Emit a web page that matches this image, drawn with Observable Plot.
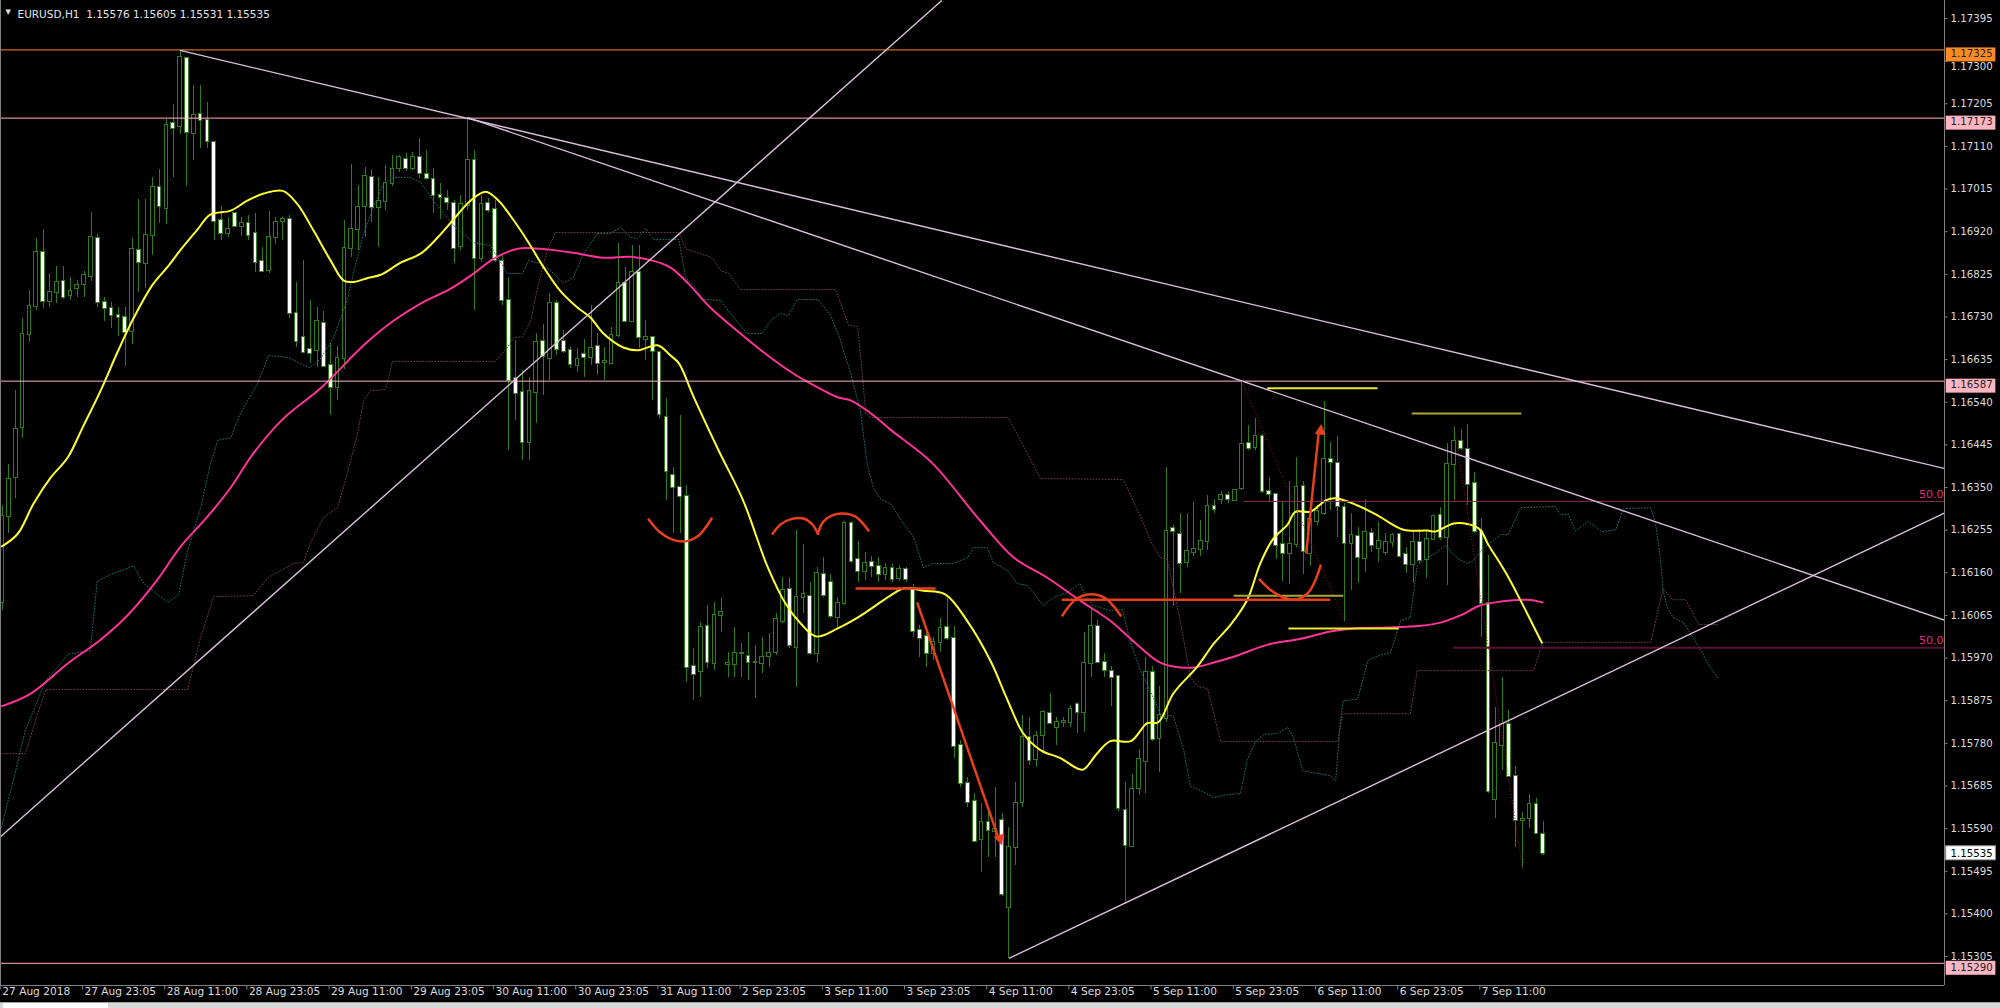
<!DOCTYPE html>
<html><head><meta charset="utf-8">
<script src="https://cdn.jsdelivr.net/npm/d3@7"></script>
<script src="https://cdn.jsdelivr.net/npm/@observablehq/plot@0.6"></script>
<style>
html,body{margin:0;padding:0;background:#000;overflow:hidden}
#strip{position:relative;height:6px;background:#d8d8d8;border-top:1px solid #a0a0a0}
#strip div{position:absolute;left:3px;top:0;width:105px;height:6px;background:#fff}
</style>
</head><body><div id="chart"></div><div id="strip"><div></div></div>
<script>
// ---- OHLC (EURUSD H1), bar index 0..225 ----
const O = [
1.16094,1.16285,1.16372,1.16484,1.16691,1.16754,1.16873,1.16765,1.16784,1.16808,
1.16777,1.16793,1.16802,1.16820,1.16904,1.16763,1.16749,1.16734,1.16729,1.16698,
1.16878,1.16849,1.16911,1.17018,1.16971,1.17161,1.17154,1.17306,1.17138,1.17181,
1.17167,1.17118,1.16944,1.16915,1.16960,1.16931,1.16938,1.16915,1.16853,1.16833,
1.16907,1.16942,1.16947,1.16738,1.16685,1.16658,1.16656,1.16716,1.16622,1.16573,
1.16638,1.16882,1.16924,1.16976,1.17040,1.16973,1.16987,1.17027,1.17060,1.17081,
1.17060,1.17085,1.17047,1.17036,1.17000,1.16994,1.16982,1.16887,1.16978,1.17078,
1.16860,1.16982,1.16969,1.16853,1.16767,1.16593,1.16562,1.16450,1.16562,1.16676,
1.16638,1.16760,1.16676,1.16656,1.16622,1.16647,1.16640,1.16665,1.16629,1.16627,
1.16689,1.16804,1.16720,1.16829,1.16680,1.16685,1.16651,1.16506,1.16377,1.16350,
1.16330,1.15951,1.15940,1.16040,1.15958,1.16065,1.15955,1.15955,1.15980,1.15973,
1.15960,1.15958,1.15973,1.15982,1.16051,1.16123,1.15993,1.16105,1.16107,1.15980,
1.16156,1.16138,1.16060,1.16091,1.16270,1.16190,1.16163,1.16183,1.16174,1.16156,
1.16169,1.16147,1.16167,1.16125,1.16031,1.16018,1.15980,1.16004,1.16038,1.16013,
1.15776,1.15691,1.15651,1.15566,1.15604,1.15584,1.15608,1.15414,1.15548,1.15649,
1.15794,1.15745,1.15798,1.15847,1.15816,1.15827,1.15827,1.15867,1.15849,1.15958,
1.16040,1.15960,1.15940,1.15929,1.15631,1.15551,1.15680,1.15740,1.15938,1.15791,
1.15836,1.16259,1.16245,1.16183,1.16205,1.16212,1.16230,1.16308,1.16323,1.16332,
1.16321,1.16348,1.16448,1.16439,1.16464,1.16341,1.16335,1.16223,1.16203,1.16223,
1.16352,1.16203,1.16274,1.16292,1.16413,1.16404,1.16305,1.16225,1.16241,1.16192,
1.16247,1.16214,1.16205,1.16227,1.16245,1.16201,1.16178,1.16227,1.16190,1.16234,
1.16288,1.16239,1.16401,1.16453,1.16435,1.16359,1.16252,1.16091,1.15655,1.15776,
1.15823,1.15707,1.15608,1.15613,1.15644,1.15576];
const H = [
1.16310,1.16401,1.16566,1.16727,1.16788,1.16904,1.16924,1.16826,1.16842,1.16842,
1.16817,1.16811,1.16831,1.16962,1.16913,1.16773,1.16763,1.16751,1.16751,1.16904,
1.16991,1.16991,1.17040,1.17058,1.17170,1.17203,1.17324,1.17308,1.17246,1.17246,
1.17208,1.17118,1.16976,1.16951,1.16962,1.16951,1.16956,1.16960,1.16884,1.16964,
1.16951,1.16951,1.16956,1.16806,1.16855,1.16767,1.16751,1.16742,1.16671,1.16665,
1.16944,1.17069,1.17023,1.17063,1.17058,1.17040,1.17067,1.17089,1.17089,1.17094,
1.17096,1.17127,1.17101,1.17060,1.17027,1.17011,1.16989,1.17000,1.17174,1.17101,
1.17000,1.16994,1.16989,1.16866,1.16817,1.16678,1.16611,1.16595,1.16693,1.16714,
1.16782,1.16767,1.16700,1.16662,1.16660,1.16680,1.16756,1.16693,1.16662,1.16707,
1.16893,1.16840,1.16889,1.16889,1.16722,1.16685,1.16651,1.16549,1.16395,1.16511,
1.16355,1.15991,1.16049,1.16087,1.16094,1.16103,1.15982,1.16038,1.16002,1.16027,
1.15998,1.16016,1.16024,1.16069,1.16149,1.16149,1.16254,1.16223,1.16138,1.16172,
1.16194,1.16156,1.16105,1.16274,1.16274,1.16230,1.16205,1.16196,1.16194,1.16181,
1.16178,1.16176,1.16172,1.16134,1.16042,1.16031,1.16016,1.16058,1.16103,1.16040,
1.15787,1.15704,1.15669,1.15646,1.15637,1.15682,1.15624,1.15593,1.15693,1.15843,
1.15838,1.15807,1.15854,1.15891,1.15838,1.15838,1.15865,1.15872,1.16027,1.16078,
1.16053,1.15980,1.15951,1.15931,1.15693,1.15711,1.15767,1.15971,1.15951,1.15906,
1.16395,1.16265,1.16292,1.16292,1.16317,1.16276,1.16332,1.16323,1.16341,1.16341,
1.16346,1.16587,1.16488,1.16504,1.16468,1.16372,1.16337,1.16317,1.16364,1.16417,
1.16364,1.16301,1.16310,1.16542,1.16450,1.16464,1.16314,1.16292,1.16261,1.16323,
1.16259,1.16272,1.16247,1.16247,1.16247,1.16216,1.16254,1.16256,1.16254,1.16285,
1.16305,1.16448,1.16486,1.16479,1.16490,1.16384,1.16281,1.16198,1.15860,1.15926,
1.15854,1.15729,1.15626,1.15667,1.15658,1.15605];
const L = [
1.16076,1.16247,1.16326,1.16459,1.16673,1.16745,1.16749,1.16751,1.16760,1.16768,
1.16767,1.16773,1.16773,1.16808,1.16751,1.16720,1.16705,1.16687,1.16620,1.16669,
1.16784,1.16793,1.16866,1.16938,1.16936,1.17040,1.17136,1.17020,1.17078,1.17105,
1.17105,1.16900,1.16900,1.16907,1.16929,1.16909,1.16900,1.16829,1.16829,1.16826,
1.16891,1.16900,1.16727,1.16662,1.16649,1.16627,1.16618,1.16618,1.16511,1.16544,
1.16613,1.16862,1.16878,1.16907,1.16940,1.16884,1.16967,1.17020,1.17052,1.17054,
1.17056,1.17038,1.17034,1.16960,1.16947,1.16967,1.16849,1.16878,1.16967,1.16745,
1.16851,1.16962,1.16851,1.16756,1.16433,1.16499,1.16410,1.16410,1.16493,1.16555,
1.16589,1.16644,1.16649,1.16615,1.16607,1.16595,1.16622,1.16600,1.16589,1.16627,
1.16685,1.16718,1.16718,1.16660,1.16633,1.16544,1.16504,1.16321,1.16247,1.16247,
1.15915,1.15876,1.15882,1.15946,1.15942,1.16027,1.15926,1.15926,1.15926,1.15920,
1.15880,1.15935,1.15949,1.15975,1.16047,1.15991,1.15904,1.16069,1.15975,1.15958,
1.16105,1.16058,1.16036,1.16087,1.16181,1.16138,1.16143,1.16149,1.16138,1.16143,
1.16138,1.16141,1.16138,1.16016,1.15971,1.15949,1.15964,1.15982,1.16009,1.15747,
1.15682,1.15637,1.15559,1.15493,1.15526,1.15526,1.15439,1.15301,1.15508,1.15637,
1.15731,1.15727,1.15758,1.15825,1.15776,1.15816,1.15816,1.15802,1.15805,1.15926,
1.15958,1.15926,1.15863,1.15628,1.15421,1.15548,1.15664,1.15669,1.15785,1.15716,
1.15827,1.16085,1.16114,1.16172,1.16196,1.16196,1.16210,1.16292,1.16312,1.16314,
1.16319,1.16343,1.16433,1.16433,1.16337,1.16317,1.16190,1.16141,1.16134,1.16216,
1.16156,1.16174,1.16265,1.16288,1.16299,1.16239,1.16051,1.16120,1.16136,1.16161,
1.16205,1.16183,1.16198,1.16216,1.16194,1.16158,1.16136,1.16181,1.16147,1.16232,
1.16232,1.16132,1.16321,1.16433,1.16310,1.16247,1.16016,1.15669,1.15613,1.15720,
1.15704,1.15548,1.15501,1.15591,1.15577,1.15531];
const C = [
1.16285,1.16368,1.16479,1.16691,1.16754,1.16873,1.16765,1.16784,1.16806,1.16773,
1.16786,1.16800,1.16822,1.16907,1.16763,1.16749,1.16734,1.16729,1.16696,1.16880,
1.16851,1.16911,1.17018,1.16976,1.17156,1.17150,1.17308,1.17141,1.17179,1.17167,
1.17121,1.16942,1.16915,1.16924,1.16931,1.16938,1.16911,1.16851,1.16831,1.16907,
1.16940,1.16947,1.16738,1.16676,1.16651,1.16649,1.16720,1.16620,1.16573,1.16638,
1.16882,1.16924,1.16973,1.17043,1.16973,1.16987,1.17027,1.17058,1.17085,1.17060,
1.17085,1.17049,1.17038,1.17000,1.16996,1.16985,1.16882,1.16980,1.17078,1.16860,
1.16980,1.16967,1.16855,1.16767,1.16589,1.16560,1.16450,1.16564,1.16673,1.16642,
1.16760,1.16658,1.16653,1.16624,1.16636,1.16640,1.16660,1.16627,1.16631,1.16689,
1.16804,1.16720,1.16829,1.16685,1.16685,1.16653,1.16513,1.16386,1.16350,1.16330,
1.15949,1.15933,1.16038,1.15960,1.16065,1.16071,1.15958,1.15980,1.15981,1.15960,
1.15961,1.15971,1.15980,1.16056,1.16120,1.15998,1.16105,1.16112,1.15980,1.16158,
1.16109,1.16062,1.16091,1.16270,1.16185,1.16163,1.16181,1.16174,1.16156,1.16169,
1.16145,1.16167,1.16145,1.16029,1.16013,1.15980,1.16004,1.16036,1.16013,1.15774,
1.15691,1.15649,1.15562,1.15604,1.15586,1.15588,1.15444,1.15548,1.15646,1.15794,
1.15742,1.15796,1.15849,1.15825,1.15827,1.15828,1.15856,1.15849,1.15958,1.16040,
1.15960,1.15942,1.15926,1.15635,1.15553,1.15678,1.15745,1.15938,1.15789,1.15843,
1.16252,1.16252,1.16181,1.16207,1.16212,1.16230,1.16308,1.16301,1.16332,1.16323,
1.16343,1.16446,1.16437,1.16464,1.16341,1.16335,1.16221,1.16203,1.16223,1.16350,
1.16207,1.16279,1.16296,1.16413,1.16406,1.16308,1.16225,1.16243,1.16194,1.16250,
1.16221,1.16230,1.16227,1.16243,1.16196,1.16178,1.16227,1.16187,1.16234,1.16285,
1.16239,1.16401,1.16453,1.16437,1.16357,1.16252,1.16091,1.15672,1.15780,1.15823,
1.15707,1.15608,1.15611,1.15644,1.15579,1.15535];

// ---- moving averages: [bar, price] ----
const maFast = [[0,1.16219],[2.3,1.16247],[4.6,1.16314],[7.1,1.16372],[9.6,1.16417],[11.9,1.16488],[14.4,1.16566],[16.9,1.16653],[19.2,1.16727],[22.0,1.16802],[24.2,1.16842],[26.1,1.16880],[28.5,1.16924],[30.4,1.16958],[33.4,1.16967],[35.8,1.16989],[38.2,1.17005],[41.0,1.17011],[43.1,1.16982],[45.5,1.16922],[48.0,1.16855],[49.9,1.16811],[51.3,1.16808],[53.4,1.16817],[55.3,1.16824],[58.2,1.16851],[61.1,1.16871],[63.6,1.16907],[65.5,1.16940],[68.4,1.16989],[70.6,1.17009],[72.5,1.16989],[74.2,1.16956],[76.7,1.16900],[79.1,1.16840],[81.5,1.16788],[84.0,1.16751],[85.9,1.16729],[87.8,1.16693],[90.7,1.16662],[92.9,1.16656],[95.7,1.16667],[97.6,1.16644],[98.8,1.16627],[101.0,1.16551],[104.6,1.16433],[108.2,1.16321],[111.8,1.16172],[114.4,1.16091],[116.6,1.16047],[118.9,1.16018],[122.0,1.16036],[124.9,1.16060],[129.7,1.16109],[131.6,1.16125],[134.5,1.16120],[137.7,1.16112],[140.9,1.16053],[144.3,1.15964],[146.8,1.15876],[149.1,1.15802],[151.6,1.15765],[154.5,1.15747],[157.0,1.15724],[157.9,1.15722],[159.9,1.15758],[161.8,1.15785],[164.8,1.15785],[167.2,1.15825],[168.8,1.15827],[171.0,1.15891],[174.5,1.15951],[176.9,1.16002],[179.4,1.16045],[181.8,1.16100],[183.7,1.16181],[185.6,1.16236],[187.7,1.16268],[188.8,1.16296],[191.0,1.16296],[193.2,1.16321],[194.7,1.16326],[197.9,1.16310],[200.8,1.16288],[204.6,1.16256],[208.1,1.16254],[209.3,1.16252],[211.9,1.16270],[214.1,1.16268],[215.8,1.16256],[216.9,1.16225],[219.5,1.16161],[221.7,1.16098],[224.8,1.16004]];
const maSlow = [[0,1.15863],[4.2,1.15891],[9.6,1.15958],[14.4,1.16011],[18.3,1.16065],[22.7,1.16145],[26.1,1.16219],[30.0,1.16285],[33.4,1.16350],[36.7,1.16426],[41.1,1.16504],[46.5,1.16571],[52.8,1.16667],[57.2,1.16722],[61.1,1.16760],[65.5,1.16793],[68.8,1.16826],[71.8,1.16860],[75.3,1.16882],[78.6,1.16882],[83.4,1.16873],[87.8,1.16862],[91.8,1.16864],[95.1,1.16855],[97.6,1.16840],[100.1,1.16806],[103.4,1.16751],[107.8,1.16693],[111.8,1.16644],[115.5,1.16604],[118.0,1.16582],[122.0,1.16551],[123.9,1.16544],[127.2,1.16511],[129.7,1.16479],[135.7,1.16406],[142.8,1.16276],[147.7,1.16194],[152.6,1.16149],[157.4,1.16098],[161.8,1.16053],[165.2,1.16007],[168.8,1.15962],[171.0,1.15951],[174.0,1.15949],[176.9,1.15960],[179.8,1.15973],[184.8,1.16000],[189.6,1.16013],[193.9,1.16029],[197.3,1.16036],[202.3,1.16038],[207.1,1.16042],[210.0,1.16049],[212.9,1.16065],[215.8,1.16087],[218.8,1.16096],[222.7,1.16100],[224.9,1.16094]];

// ---- Ichimoku spans (dotted): [bar, price] ----
const spanA = [[-0.2,1.15586],[2.0,1.15719],[3.4,1.15809],[4.6,1.15853],[6.4,1.15920],[8.1,1.15949],[9.6,1.15978],[12.9,1.15987],[13.9,1.16141],[15.8,1.16156],[18.3,1.16170],[19.2,1.16176],[20.7,1.16136],[22.7,1.16112],[24.2,1.16094],[25.8,1.16112],[27.1,1.16210],[29.0,1.16305],[30.4,1.16401],[31.5,1.16455],[33.4,1.16461],[34.8,1.16515],[37.3,1.16582],[38.9,1.16644],[41.7,1.16640],[43.6,1.16626],[45.0,1.16617],[46.5,1.16637],[48.4,1.16684],[50.4,1.16767],[51.3,1.16827],[52.8,1.16916],[54.2,1.16974],[55.7,1.17027],[57.2,1.17041],[59.6,1.17041],[61.1,1.17030],[63.0,1.16989],[65.9,1.16934],[68.8,1.16896],[71.3,1.16889],[73.8,1.16827],[76.0,1.16827],[76.9,1.16856],[78.6,1.16849],[80.1,1.16833],[82.0,1.16805],[83.4,1.16818],[84.9,1.16871],[86.9,1.16916],[88.8,1.16916],[90.3,1.16929],[91.8,1.16907],[92.8,1.16905],[94.0,1.16927],[95.1,1.16903],[98.8,1.16903],[99.8,1.16818],[101.0,1.16800],[102.4,1.16769],[104.9,1.16767],[106.8,1.16729],[108.8,1.16693],[111.0,1.16693],[112.2,1.16722],[113.6,1.16738],[114.8,1.16733],[116.1,1.16769],[119.1,1.16769],[121.0,1.16733],[122.4,1.16678],[123.9,1.16604],[125.3,1.16522],[126.3,1.16403],[127.2,1.16350],[128.2,1.16325],[129.7,1.16314],[131.5,1.16272],[133.1,1.16239],[134.5,1.16172],[136.0,1.16181],[138.9,1.16181],[141.0,1.16194],[141.8,1.16216],[143.9,1.16216],[144.7,1.16183],[146.8,1.16165],[148.2,1.16136],[149.7,1.16132],[150.6,1.16116],[152.0,1.16087],[153.5,1.16105],[155.5,1.16116],[157.4,1.16136],[158.2,1.16109],[159.3,1.16087],[161.8,1.16076],[163.6,1.16078],[164.7,1.16007],[166.2,1.15942],[167.7,1.15895],[169.1,1.15846],[171.0,1.15840],[172.5,1.15766],[173.5,1.15684],[175.0,1.15675],[176.9,1.15659],[178.9,1.15666],[180.8,1.15668],[181.8,1.15744],[183.0,1.15784],[184.2,1.15800],[186.2,1.15802],[187.7,1.15815],[188.5,1.15795],[189.9,1.15719],[193.9,1.15708],[194.7,1.15697],[195.4,1.15831],[195.8,1.15875],[197.9,1.15878],[199.4,1.15965],[201.0,1.15976],[202.7,1.15982],[204.2,1.16054],[205.6,1.16060],[206.6,1.16176],[208.1,1.16194],[209.3,1.16203],[210.7,1.16221],[212.5,1.16192],[213.9,1.16181],[214.8,1.16187],[216.3,1.16216],[218.8,1.16245],[219.9,1.16245],[221.7,1.16305],[226.8,1.16308],[227.5,1.16290],[228.7,1.16290],[229.7,1.16254],[231.6,1.16274],[233.6,1.16252],[235.6,1.16256],[236.7,1.16303],[240.7,1.16305],[241.4,1.16270],[242.1,1.16194],[242.5,1.16120],[243.1,1.16083],[244.0,1.16060],[245.5,1.16049],[246.5,1.16025],[248.0,1.15987],[249.4,1.15949],[250.6,1.15924]];
const spanB = [[-0.2,1.15757],[3.4,1.15757],[4.9,1.15831],[6.4,1.15900],[27.1,1.15900],[29.0,1.16016],[30.9,1.16107],[36.7,1.16109],[38.8,1.16149],[40.7,1.16165],[42.6,1.16181],[44.0,1.16183],[45.0,1.16225],[46.9,1.16283],[49.0,1.16305],[50.4,1.16381],[51.9,1.16470],[52.8,1.16544],[53.8,1.16566],[56.0,1.16568],[57.0,1.16631],[72.0,1.16631],[73.8,1.16662],[74.7,1.16684],[76.0,1.16686],[77.2,1.16722],[78.2,1.16796],[79.6,1.16878],[80.8,1.16918],[98.8,1.16918],[99.8,1.16882],[103.7,1.16862],[104.9,1.16833],[106.1,1.16827],[107.8,1.16791],[121.7,1.16791],[123.6,1.16711],[124.9,1.16709],[125.6,1.16604],[126.1,1.16515],[126.8,1.16506],[146.9,1.16506],[148.7,1.16455],[151.6,1.16370],[163.7,1.16368],[166.2,1.16285],[167.7,1.16230],[169.1,1.16194],[170.1,1.16190],[172.0,1.16054],[173.5,1.15927],[174.5,1.15907],[176.0,1.15902],[177.9,1.15784],[195.0,1.15784],[195.7,1.15846],[205.6,1.15846],[206.6,1.15942],[223.6,1.15942],[224.9,1.16005],[240.7,1.16005],[242.5,1.16125],[243.9,1.16100],[245.8,1.16100],[247.7,1.16045],[250.6,1.16045]];

// ---- horizontal levels and their axis labels ----
const levelPrices = [1.17325, 1.17173, 1.16587, 1.15290];
const levelColors = ["#ff8a24", "#ffb6c1", "#ffb6c1", "#ffb6c1"];
const lastPrice = 1.15535;

// ---- fibonacci 50% levels ----
const fibStart = [181.2, 211.8];
const fibPrice = [1.16319, 1.15993];
const fibColor = ["#8a2858", "#5a1030"];
const fibWidth = [1, 2];
const fibText = ["50.0", "50.0"];

// ---- trend lines (bar, price) ----
const trendX1 = [26, 68, -0.22, 147];
const trendY1 = [1.17324, 1.17174, 1.15572, 1.15301];
const trendX2 = [283.7, 283.7, 137.2, 283.7];
const trendY2 = [1.16392, 1.16054, 1.17435, 1.16294];

// ---- zigzag segments ----
const zigX1 = [181, 212], zigY1 = [1.16587, 1.16486];
const zigX2 = [196, 222], zigY2 = [1.16051, 1.15501];

// ---- short marker lines ----
const markStart = [184.7, 205.8, 179.8, 187.8];
const markEnd = [200.8, 221.8, 195.8, 203.9];
const markPrice = [1.16571, 1.16515, 1.16109, 1.16036];
const markColor = ["#eaea2a", "#a8a832", "#a8a832", "#eaea2a"];

// ---- red annotations ----
const redStart = [124.6, 154.7], redEnd = [136.3, 193.9], redPrice = [1.16125, 1.16100];
const arcU1 = [[94.4,1.16279],[96.1,1.16250],[97.9,1.16234],[99.8,1.16230],[101.7,1.16243],[103.6,1.16281]];
const arcM1 = [[112.5,1.16247],[113.7,1.16268],[115.1,1.16279],[117.0,1.16281],[118.3,1.16268],[119.1,1.16247]];
const arcM2 = [[119.1,1.16247],[119.9,1.16274],[121.2,1.16288],[122.7,1.16292],[124.6,1.16285],[126.5,1.16254]];
const arcN = [[154.8,1.16065],[156.7,1.16100],[158.9,1.16112],[161.1,1.16103],[163.3,1.16065]];
const arcU2 = [[183.6,1.16145],[185.9,1.16114],[188.5,1.16100],[190.7,1.16116],[192.5,1.16176]];
const arrowX1 = [133.6, 190.4], arrowY1 = [1.16094, 1.16203];
const arrowX2 = [145.4, 192.2], arrowY2 = [1.15572, 1.16470];
const headX = [145.8, 192.5], headY = [1.15562, 1.16482], headAngle = [161, 6];

// ---- axes ----
const priceTicks = [1.17395,1.17300,1.17205,1.17110,1.17015,1.16920,1.16825,1.16730,1.16635,1.16540,1.16445,1.16350,1.16255,1.16160,1.16065,1.15970,1.15875,1.15780,1.15685,1.15590,1.15495,1.15400,1.15305];
const timeLabels = ["27 Aug 2018","27 Aug 23:05","28 Aug 11:00","28 Aug 23:05","29 Aug 11:00","29 Aug 23:05","30 Aug 11:00","30 Aug 23:05","31 Aug 11:00","2 Sep 23:05","3 Sep 11:00","3 Sep 23:05","4 Sep 11:00","4 Sep 23:05","5 Sep 11:00","5 Sep 23:05","6 Sep 11:00","6 Sep 23:05","7 Sep 11:00"];
const timeLabelBars = [0,12,24,36,48,60,72,84,96,108,120,132,144,156,168,180,192,204,216];
const header = "EURUSD,H1  1.15576 1.15605 1.15531 1.15535";

// ---- build ----
const candles = O.map((o, i) => ({i, o, h: H[i], l: L[i], c: C[i]}));
const W = 2000, HT = 1002, mR = 56, plotH = 985;
const xDomain = [-0.219, 283.58];
const yDomain = [1.152405, 1.174351];
const k = (yDomain[1] - yDomain[0]) / plotH;      // price per pixel
const kb = (xDomain[1] - xDomain[0]) / (W - mR);  // bars per pixel
const xR = xDomain[1], yB = yDomain[0];
const green = "#2f7d14";
const red = "#e8401c";
const idx = a => a.map((_, i) => i);
const font = "DejaVu Sans";
// a tick label that sits under a level box is nudged down so both stay readable
const nearLevel = t => levelPrices.some(p => Math.abs(p - t) < 0.0004 && p > t);
const ticksFree = priceTicks.filter(t => !nearLevel(t));
const ticksNudged = priceTicks.filter(t => nearLevel(t));

const chart = Plot.plot({
  width: W, height: HT,
  marginLeft: 0, marginRight: mR, marginTop: 0, marginBottom: HT - plotH,
  style: {background: "#000", color: "#dcdcdc", fontFamily: font, fontSize: "10px", overflow: "visible"},
  x: {domain: xDomain, axis: null},
  y: {domain: yDomain, axis: null},
  color: {type: "identity"},
  marks: [
    // candles
    Plot.ruleX(candles, {x: "i", y1: "l", y2: "h", stroke: green, shapeRendering: "crispEdges"}),
    Plot.rect(candles, {x1: d => d.i - 0.27, x2: d => d.i + 0.27, y1: "o", y2: "c",
      fill: d => d.c >= d.o ? "#000" : "#fff", stroke: green, insetTop: -0.5, insetBottom: -0.5, shapeRendering: "crispEdges"}),
    // ichimoku
    Plot.line(spanA, {x: d => d[0], y: d => d[1], stroke: "#1f6f6a", strokeWidth: 1, strokeDasharray: "1,2"}),
    Plot.line(spanB, {x: d => d[0], y: d => d[1], stroke: "#6e3d4e", strokeWidth: 1, strokeDasharray: "1,2"}),
    // moving averages
    Plot.line(maSlow, {x: d => d[0], y: d => d[1], stroke: "#ff3399", strokeWidth: 2, curve: "catmull-rom"}),
    Plot.line(maFast, {x: d => d[0], y: d => d[1], stroke: "#ffff33", strokeWidth: 2, curve: "catmull-rom"}),
    // horizontal levels
    Plot.ruleY(levelPrices, {y: d => d, stroke: (d, i) => levelColors[i], strokeWidth: 1}),
    // fib levels
    Plot.link(idx(fibPrice), {x1: i => fibStart[i], x2: xR, y1: i => fibPrice[i], y2: i => fibPrice[i],
      stroke: i => fibColor[i], strokeWidth: i => fibWidth[i]}),
    Plot.text(idx(fibPrice), {y: i => fibPrice[i], frameAnchor: "right", dx: -1, dy: -7, text: i => fibText[i],
      textAnchor: "end", fill: "#e0307a", fontSize: 11}),
    // trend lines
    Plot.link(idx(trendX1), {x1: i => trendX1[i], y1: i => trendY1[i], x2: i => trendX2[i], y2: i => trendY2[i],
      stroke: "#dcc0dc", strokeWidth: 1.4, clip: true}),
    // zigzag
    Plot.link(idx(zigX1), {x1: i => zigX1[i], y1: i => zigY1[i], x2: i => zigX2[i], y2: i => zigY2[i],
      stroke: "#a01818", strokeWidth: 1, strokeDasharray: "1,2"}),
    // marker lines
    Plot.link(idx(markStart), {x1: i => markStart[i], x2: i => markEnd[i], y1: i => markPrice[i], y2: i => markPrice[i],
      stroke: i => markColor[i], strokeWidth: 2}),
    // red annotations
    Plot.link(idx(redStart), {x1: i => redStart[i], x2: i => redEnd[i], y1: i => redPrice[i], y2: i => redPrice[i],
      stroke: red, strokeWidth: 2.5}),
    ...[arcU1, arcM1, arcM2, arcN, arcU2].map(a =>
      Plot.line(a, {x: d => d[0], y: d => d[1], stroke: red, strokeWidth: 2.5, curve: "catmull-rom"})),
    Plot.link(idx(arrowX1), {x1: i => arrowX1[i], y1: i => arrowY1[i], x2: i => arrowX2[i], y2: i => arrowY2[i],
      stroke: red, strokeWidth: 2.5}),
    Plot.text(idx(headX), {x: i => headX[i], y: i => headY[i], text: () => "\u25B2", rotate: i => headAngle[i],
      fill: red, fontSize: 14}),
    // frame
    Plot.ruleX([xR], {x: d => d, stroke: "#808080"}),
    Plot.ruleX([xDomain[0]], {x: d => d, stroke: "#808080"}),
    Plot.ruleY([yB], {y: d => d, stroke: "#808080"}),
    // right price axis
    Plot.link(priceTicks, {x1: xR, x2: xR + 3 * kb, y1: d => d, y2: d => d, stroke: "#808080"}),
    Plot.text(ticksFree, {y: d => d, frameAnchor: "right", dx: 6, textAnchor: "start", text: d => d.toFixed(5),
      fill: "#dcdcdc", fontSize: 10.2}),
    Plot.text(ticksNudged, {y: d => d, frameAnchor: "right", dx: 6, dy: 6, textAnchor: "start", text: d => d.toFixed(5),
      fill: "#dcdcdc", fontSize: 10.2}),
    // level labels
    Plot.rect(levelPrices, {x1: xR + 0.25, x2: xR + 7.5, y1: d => d + 2 * k, y2: d => d - 12 * k,
      fill: (d, i) => levelColors[i]}),
    Plot.text(levelPrices, {y: d => d, frameAnchor: "right", dx: 6, dy: 4, textAnchor: "start", text: d => d.toFixed(5),
      fill: "#222", fontSize: 10.2}),
    Plot.rect([lastPrice], {x1: xR + 0.25, x2: xR + 7.5, y1: d => d + 7 * k, y2: d => d - 7 * k, fill: "#fff", stroke: "#999"}),
    Plot.text([lastPrice], {y: d => d, frameAnchor: "right", dx: 6, textAnchor: "start", text: d => d.toFixed(5),
      fill: "#000", fontSize: 10.2}),
    // time axis
    Plot.link(timeLabelBars, {x1: d => d - 0.25, x2: d => d - 0.25, y1: yB, y2: yB - 4 * k, stroke: "#808080"}),
    Plot.text(timeLabels, {x: (d, i) => timeLabelBars[i] - 0.25, frameAnchor: "bottom", dy: 9, dx: 2,
      textAnchor: "start", text: d => d, fill: "#dcdcdc", fontSize: 10.6}),
    // header
    Plot.text(["\u25BC"], {frameAnchor: "top-left", dx: 5, dy: 9, text: d => d, fill: "#e0e0e0", fontSize: 7}),
    Plot.text([header], {frameAnchor: "top-left", dx: 17, dy: 10, textAnchor: "start", text: d => d,
      fill: "#e6e6e6", fontSize: 10.5})
  ]
});
document.getElementById("chart").appendChild(chart);
</script>
</body></html>
